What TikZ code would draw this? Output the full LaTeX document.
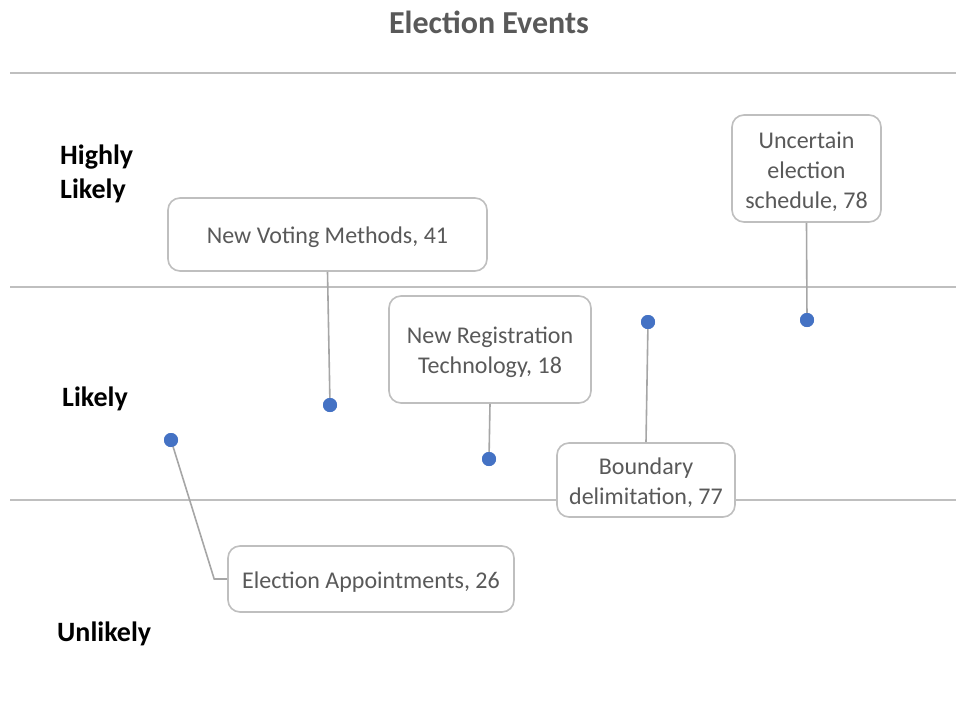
\documentclass[tikz,border=0pt]{standalone}
\usepackage{fontspec}
\setmainfont{Carlito}
\definecolor{gridgray}{HTML}{BFBFBF}
\definecolor{textgray}{HTML}{595959}
\definecolor{leadergray}{HTML}{A6A6A6}
\definecolor{dotblue}{HTML}{4472C4}
\begin{document}
\begin{tikzpicture}[x=1pt,y=-1pt,
  band/.style={draw=gridgray,line width=1.6pt},
  callout/.style={draw=gridgray,line width=1.6pt,fill=white,rounded corners=12pt,inner sep=0pt},
  callouttext/.style={align=center,text=textgray,font=\fontsize{24}{30}\selectfont,inner sep=0pt},
  leader/.style={draw=leadergray,line width=1.6pt},
  dot/.style={circle,fill=dotblue,minimum size=14pt,inner sep=0pt},
  rowlabel/.style={anchor=west,align=left,inner sep=0pt,font=\fontsize{28}{34}\selectfont\bfseries}]
\useasboundingbox (0,0) rectangle (956,713);
\fill[white] (0,0) rectangle (956,713);

% title
\node[text=textgray,font=\fontsize{32}{38}\selectfont\bfseries] (title) at (489,22) {Election Events};

% band separators
\coordinate (l1a) at (10,73);  \coordinate (l1b) at (956,73);
\coordinate (l2a) at (10,287); \coordinate (l2b) at (956,287);
\coordinate (l3a) at (10,500); \coordinate (l3b) at (956,500);
\draw[band] (l1a) -- (l1b);
\draw[band] (l2a) -- (l2b);
\draw[band] (l3a) -- (l3b);

% row labels
\node[rowlabel] (hl) at (60,174) {Highly\\Likely};
\node[rowlabel] (lk) at (62,399) {Likely};
\node[rowlabel] (ul) at (57,634) {Unlikely};

% data points
\node[dot] (d1) at (330,405) {};
\node[dot] (d2) at (489,459) {};
\node[dot] (d3) at (648,322) {};
\node[dot] (d4) at (807,320) {};
\node[dot] (d5) at (171,440) {};

% label boxes
\node[callout,minimum width=319pt,minimum height=73pt] (nvm) at (327.5,234.5) {};
\node[callout,minimum width=202pt,minimum height=107pt] (nrt) at (490,349.5) {};
\node[callout,minimum width=178pt,minimum height=74pt] (bd) at (646,480) {};
\node[callout,minimum width=149pt,minimum height=107pt] (ues) at (806.5,168.5) {};
\node[callout,minimum width=286pt,minimum height=66pt] (ea) at (371,579) {};

% label texts
\node[callouttext] (nvmt) at ([yshift=-3pt]nvm.center) {New Voting Methods, 41};
\node[callouttext] (nrtt) at ([yshift=-3pt]nrt.center) {New Registration\\Technology, 18};
\node[callouttext] (bdt) at ([yshift=-3pt]bd.center) {Boundary\\delimitation, 77};
\node[callouttext] (uest) at ([yshift=-3pt]ues.center) {Uncertain\\election\\schedule, 78};
\node[callouttext] (eat) at ([yshift=-3pt]ea.center) {Election Appointments, 26};

% leader lines
\draw[leader] (nvm.south) -- (d1.center);
\draw[leader] (nrt.south) -- (d2.center);
\draw[leader] (bd.north) -- (d3.center);
\draw[leader] (ues.south) -- (d4.center);
\draw[leader] (ea.west) -- ++(-13,0) -- (d5.center);

% points drawn over the leader ends
\fill[dotblue] (d1) circle (7pt);
\fill[dotblue] (d2) circle (7pt);
\fill[dotblue] (d3) circle (7pt);
\fill[dotblue] (d4) circle (7pt);
\fill[dotblue] (d5) circle (7pt);
\end{tikzpicture}
\end{document}
